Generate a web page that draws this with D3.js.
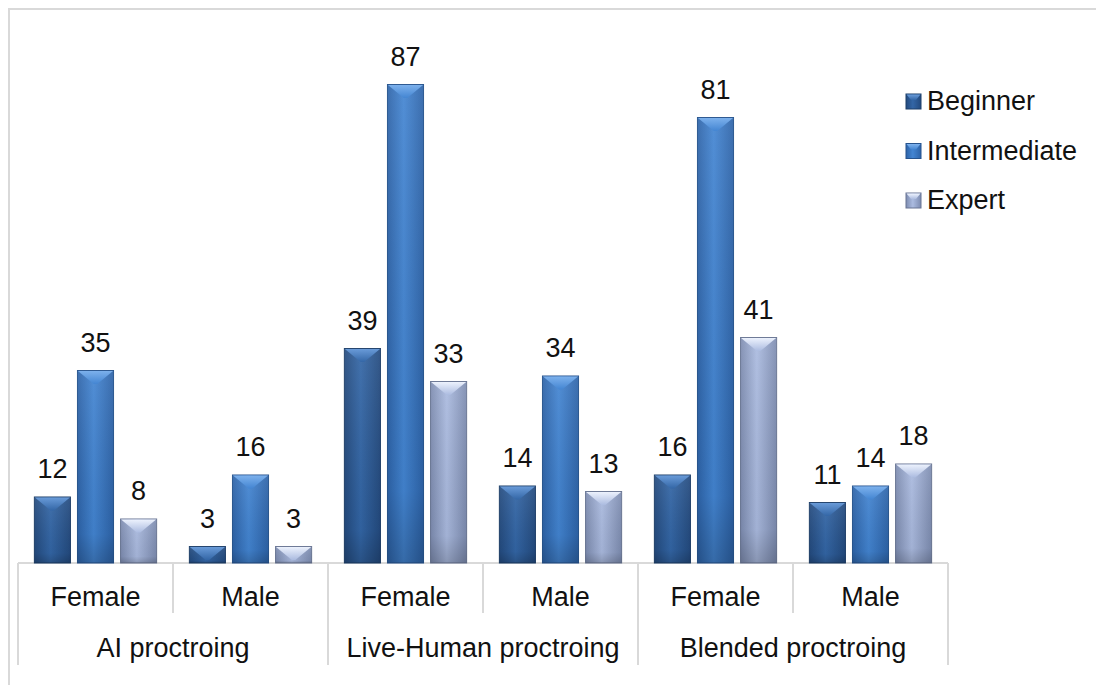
<!DOCTYPE html>
<html>
<head>
<meta charset="utf-8">
<script src="https://cdn.jsdelivr.net/npm/d3@7"></script>
<style>
  body { margin: 0; background: #fff; }
  svg text { font-family: "Liberation Sans", Arial, sans-serif; fill: #111; }
</style>
</head>
<body>
<div id="chart"></div>
<script>
// categories
var groups = ["AI proctroing", "Live-Human proctroing", "Blended proctroing"];
var genders = ["Female", "Male"];
var levels = ["Beginner", "Intermediate", "Expert"];

// values, in order AI F, AI M, Live F, Live M, Blended F, Blended M
var beginner = [12, 3, 39, 14, 16, 11];
var intermediate = [35, 16, 87, 34, 81, 14];
var expert = [8, 3, 33, 13, 41, 18];

var series = [beginner, intermediate, expert];

// build rows for the subgroups
var rows = [];
groups.forEach(function(g, gi) {
  genders.forEach(function(s, si) {
    var i = gi * genders.length + si;
    rows.push({ key: g + "|" + s, group: g, gender: s, values: levels.map(function(l, li) {
      return { level: l, value: series[li][i] };
    }) });
  });
});

var width = 1096, height = 685;
var fontSize = 27;
var svg = d3.select("#chart").append("svg")
  .attr("width", width)
  .attr("height", height);

// colours per level: [edge, middle, bevel top]
var colors = {
  "Beginner": ["#234a7e", "#3366a6", "#6b9ddb"],
  "Intermediate": ["#2d63a8", "#4385d2", "#7fb3ee"],
  "Expert": ["#7d8cb0", "#abbbe0", "#f0f5ff"]
};

var defs = svg.append("defs");
levels.forEach(function(l, i) {
  var c = colors[l];
  var g = defs.append("linearGradient").attr("id", "body" + i)
    .attr("x1", 0).attr("x2", 1).attr("y1", 0).attr("y2", 0);
  g.append("stop").attr("offset", "0%").attr("stop-color", c[0]);
  g.append("stop").attr("offset", "45%").attr("stop-color", c[1]);
  g.append("stop").attr("offset", "100%").attr("stop-color", c[0]);
  var v = defs.append("linearGradient").attr("id", "shade" + i)
    .attr("x1", 0).attr("x2", 0).attr("y1", 0).attr("y2", 1);
  v.append("stop").attr("offset", "0%").attr("stop-color", "#fff").attr("stop-opacity", 0.08);
  v.append("stop").attr("offset", "85%").attr("stop-color", "#000").attr("stop-opacity", 0.05);
  v.append("stop").attr("offset", "100%").attr("stop-color", "#000").attr("stop-opacity", 0.2);
  var b = defs.append("linearGradient").attr("id", "bevel" + i)
    .attr("x1", 0).attr("x2", 0).attr("y1", 0).attr("y2", 1);
  b.append("stop").attr("offset", "0%").attr("stop-color", c[2]);
  b.append("stop").attr("offset", "100%").attr("stop-color", c[1]);
});

// outer frame
svg.append("path")
  .attr("d", "M9,685 V9 H1096")
  .attr("fill", "none")
  .attr("stroke", "#d9d9d9")
  .attr("stroke-width", 2);

// scales
var x0 = d3.scaleBand()
  .domain(rows.map(function(d) { return d.key; }))
  .range([18, 948]);

var x1 = d3.scaleBand()
  .domain(levels)
  .range([0, x0.bandwidth()])
  .paddingInner(0.163)
  .paddingOuter(0.38);

var y = d3.scaleLinear()
  .domain([0, 100])
  .range([563, 13]);

// axis lines
var axis = svg.append("g").attr("stroke", "#d9d9d9").attr("stroke-width", 2);
axis.append("line")
  .attr("x1", x0.range()[0]).attr("x2", x0.range()[1])
  .attr("y1", y(0)).attr("y2", y(0));

var bounds = rows.map(function(d, i) { return { x: x0(d.key), long: i % genders.length === 0 }; });
bounds.push({ x: x0.range()[1], long: true });
axis.selectAll(".tick")
  .data(bounds)
  .enter().append("line")
  .attr("x1", function(d) { return d.x; })
  .attr("x2", function(d) { return d.x; })
  .attr("y1", y(0))
  .attr("y2", function(d) { return d.long ? 665 : 613; });

// bars
var sub = svg.selectAll(".sub")
  .data(rows)
  .enter().append("g")
  .attr("transform", function(d) { return "translate(" + x0(d.key) + ",0)"; });

var bar = sub.selectAll(".bar")
  .data(function(d) { return d.values; })
  .enter().append("g");

bar.append("rect")
  .attr("x", function(d) { return x1(d.level); })
  .attr("y", function(d) { return y(d.value); })
  .attr("width", x1.bandwidth())
  .attr("height", function(d) { return y(0) - y(d.value); })
  .attr("fill", function(d) { return "url(#body" + levels.indexOf(d.level) + ")"; })
  .attr("stroke", function(d) { return d3.color(colors[d.level][0]).darker(0.5); })
  .attr("stroke-width", 1);

bar.append("rect")
  .attr("x", function(d) { return x1(d.level); })
  .attr("y", function(d) { return y(d.value); })
  .attr("width", x1.bandwidth())
  .attr("height", function(d) { return y(0) - y(d.value); })
  .attr("fill", function(d) { return "url(#shade" + levels.indexOf(d.level) + ")"; });

// top bevel
bar.append("path")
  .attr("d", function(d) {
    var x = x1(d.level) + 0.5, w = x1.bandwidth() - 1, t = y(d.value) + 0.5;
    var h = Math.min(13, (y(0) - y(d.value)) - 1);
    var inset = w * 0.45 * (h / 13);
    return "M" + x + "," + t + " H" + (x + w) + " L" + (x + w - inset) + "," + (t + h) +
      " H" + (x + inset) + " Z";
  })
  .attr("fill", function(d) { return "url(#bevel" + levels.indexOf(d.level) + ")"; })
  .attr("opacity", 0.95);

// value labels
bar.append("text")
  .attr("x", function(d) { return x1(d.level) + x1.bandwidth() / 2; })
  .attr("y", function(d) { return y(d.value) - 19; })
  .attr("text-anchor", "middle")
  .attr("font-size", fontSize)
  .text(function(d) { return d.value; });

// gender labels
svg.selectAll(".glab")
  .data(rows)
  .enter().append("text")
  .attr("x", function(d) { return x0(d.key) + x0.bandwidth() / 2; })
  .attr("y", 606)
  .attr("text-anchor", "middle")
  .attr("font-size", fontSize)
  .text(function(d) { return d.gender; });

// group labels
svg.selectAll(".grp")
  .data(groups)
  .enter().append("text")
  .attr("x", function(d) { return x0(d + "|" + genders[0]) + x0.bandwidth(); })
  .attr("y", 657)
  .attr("text-anchor", "middle")
  .attr("font-size", fontSize)
  .text(function(d) { return d; });

// legend
var legend = svg.selectAll(".leg")
  .data(levels)
  .enter().append("g")
  .attr("transform", function(d, i) { return "translate(906," + (94 + i * 49.5) + ")"; });

legend.append("rect")
  .attr("width", 15).attr("height", 15)
  .attr("fill", function(d, i) { return "url(#body" + i + ")"; })
  .attr("stroke", function(d) { return d3.color(colors[d][0]).darker(0.5); })
  .attr("stroke-width", 1);
legend.append("path")
  .attr("d", "M0.5,0.5 H14.5 L10,6 H5 Z")
  .attr("fill", function(d, i) { return "url(#bevel" + i + ")"; });

legend.append("text")
  .attr("x", 21)
  .attr("y", 16)
  .attr("font-size", fontSize)
  .text(function(d) { return d; });
</script>
</body>
</html>
